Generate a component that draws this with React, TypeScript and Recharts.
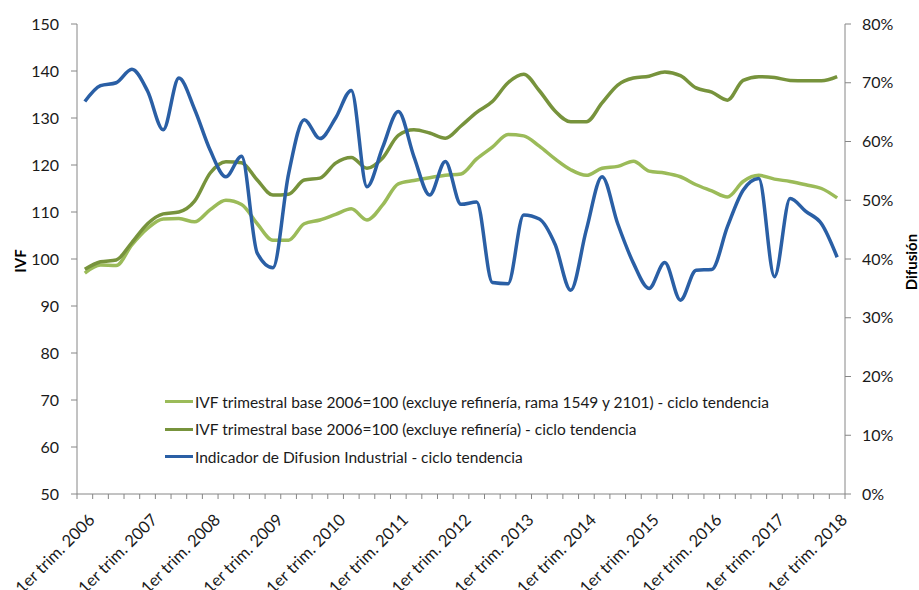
import { LineChart, Line, XAxis, YAxis, Legend } from 'recharts';

const years = [2006, 2007, 2008, 2009, 2010, 2011, 2012, 2013, 2014, 2015, 2016, 2017, 2018];
const quarters = ['1er trim.', '2do trim.', '3er trim.', '4to trim.'];
const categories = years.flatMap((y) => quarters.map((q) => `${q} ${y}`)).slice(0, 49);

// IVF trimestral base 2006=100 (excluye refinería, rama 1549 y 2101)
const ivfSinRama = [
  97, 98.7, 98.6, 103, 106.5, 108.5, 108.6, 107.9, 110.5, 112.5,
  111.6, 107.5, 104, 104, 107.5, 108.3, 109.5, 110.7, 108.3, 111.5,
  116, 116.7, 117.3, 117.8, 118.1, 121.3, 123.8, 126.5, 126.2, 124,
  121.3, 119, 117.8, 119.3, 119.7, 120.8, 118.7, 118.3, 117.5, 115.8,
  114.5, 113.2, 116.5, 117.8, 117, 116.5, 115.8, 115, 113,
];

// IVF trimestral base 2006=100 (excluye refinería)
const ivfSinRefineria = [
  97.8, 99.4, 99.8, 103.5, 107.5, 109.6, 110, 112.3, 118.3, 120.7,
  120.5, 116.8, 113.6, 113.8, 116.8, 117.2, 120.4, 121.6, 119.3, 121.5,
  126.3, 127.5, 126.8, 125.7, 128.3, 131.2, 133.5, 137.5, 139.3, 135.8,
  131.5, 129.2, 129.2, 133.2, 137, 138.5, 138.9, 139.8, 139, 136.4,
  135.5, 133.8, 138, 138.8, 138.6, 138, 137.9, 137.9, 138.8,
];

// Indicador de Difusion Industrial (%)
const difusion = [
  66.8, 69.5, 70, 72.3, 68.6, 62, 70.8, 65.5, 58.5, 54,
  57.5, 41, 38.5, 54.5, 63.7, 60.5, 64, 68.7, 52.3, 59,
  65.1, 57.4, 50.9, 56.6, 49.3, 49.7, 36, 35.8, 47.5, 46.8,
  42.5, 34.7, 45, 54, 46, 39.3, 35, 39.4, 33, 38.1,
  38.2, 45.5, 51.7, 53.7, 37, 50.3, 48.1, 46, 40.3,
];

const seriesNames = [
  'IVF trimestral base 2006=100 (excluye refinería, rama 1549 y 2101) - ciclo tendencia',
  'IVF trimestral base 2006=100 (excluye refinería) - ciclo tendencia',
  'Indicador de Difusion Industrial - ciclo tendencia',
];

const leftTicks = [50, 60, 70, 80, 90, 100, 110, 120, 130, 140, 150];
const rightTicks = [0, 10, 20, 30, 40, 50, 60, 70, 80];

const data = categories.map((name, i) => ({
  name,
  ivfSinRama: ivfSinRama[i],
  ivfSinRefineria: ivfSinRefineria[i],
  difusion: difusion[i],
}));

const FONT = 'Lato, "Open Sans", sans-serif';
const AXIS = '#868686';
const PLOT_LEFT = 77;
const PLOT_RIGHT = 845;
const BAND = (PLOT_RIGHT - PLOT_LEFT) / categories.length;

function XTick(props: any) {
  const { x, y, payload } = props;
  const i = payload.index;
  const lx = x + 11;
  const ly = y + 27;
  return (
    <g>
      <line x1={x - BAND / 2} y1={y} x2={x - BAND / 2} y2={y + 5} stroke={AXIS} />
      {i === categories.length - 1 && (
        <line x1={x + BAND / 2} y1={y} x2={x + BAND / 2} y2={y + 5} stroke={AXIS} />
      )}
      {i % 4 === 0 && (
        <text
          x={lx}
          y={ly}
          transform={`rotate(-45 ${lx} ${ly})`}
          textAnchor="end"
          fontSize={16.5}
          fontFamily={FONT}
          fill="#1a1a1a"
        >
          {payload.value}
        </text>
      )}
    </g>
  );
}

function LegendBox(props: any) {
  const items = [...(props.payload || [])].sort(
    (a: any, b: any) => seriesNames.indexOf(a.value) - seriesNames.indexOf(b.value)
  );
  return (
    <div style={{ fontFamily: FONT, fontSize: 15.5, color: '#1a1a1a' }}>
      {items.map((it: any) => (
        <div key={it.value} style={{ display: 'flex', alignItems: 'center', height: 27.5, whiteSpace: 'nowrap' }}>
          <span style={{ display: 'inline-block', width: 28, height: 3, background: it.color, marginRight: 2 }} />
          <span>{it.value}</span>
        </div>
      ))}
    </div>
  );
}

export default function App() {
  return (
    <div style={{ position: 'absolute', left: 0, top: 0, width: 919, height: 590, background: '#fff' }}>
      <LineChart
        width={919}
        height={590}
        data={data}
        margin={{ top: 24, right: 14, left: 17, bottom: 0 }}
      >
        <XAxis
          dataKey="name"
          scale="band"
          interval={0}
          height={96}
          tickSize={0}
          tickMargin={0}
          tickLine={false}
          axisLine={{ stroke: AXIS }}
          tick={<XTick />}
        />
        <YAxis
          yAxisId="left"
          width={60}
          domain={[50, 150]}
          ticks={leftTicks}
          tickSize={6}
          tickMargin={12}
          axisLine={{ stroke: AXIS }}
          tickLine={{ stroke: AXIS }}
          tick={{ fontSize: 16, fontFamily: FONT, fill: '#1a1a1a' }}
          label={{
            content: () => (
              <text
                x={20}
                y={261}
                transform="rotate(-90 20 261)"
                textAnchor="middle"
                dominantBaseline="central"
                fontSize={15}
                fontWeight="bold"
                fontFamily={FONT}
                fill="#000"
              >
                IVF
              </text>
            ),
          }}
        />
        <YAxis
          yAxisId="right"
          orientation="right"
          width={60}
          domain={[0, 80]}
          ticks={rightTicks}
          tickFormatter={(v) => `${v}%`}
          tickSize={6}
          tickMargin={11}
          axisLine={{ stroke: AXIS }}
          tickLine={{ stroke: AXIS }}
          tick={{ fontSize: 16, fontFamily: FONT, fill: '#1a1a1a' }}
          label={{
            content: () => (
              <text
                x={911}
                y={262}
                transform="rotate(-90 911 262)"
                textAnchor="middle"
                dominantBaseline="central"
                fontSize={15}
                fontWeight="bold"
                fontFamily={FONT}
                fill="#000"
              >
                Difusión
              </text>
            ),
          }}
        />
        <Legend
          layout="vertical"
          align="center"
          verticalAlign="middle"
          wrapperStyle={{ left: 165, top: 388, width: 640 }}
          content={<LegendBox />}
        />
        <Line
          yAxisId="left"
          type="monotone"
          dataKey="ivfSinRama"
          name={seriesNames[0]}
          stroke="#9BBB59"
          strokeWidth={3.5}
          dot={false}
          activeDot={false}
          isAnimationActive={false}
        />
        <Line
          yAxisId="left"
          type="monotone"
          dataKey="ivfSinRefineria"
          name={seriesNames[1]}
          stroke="#77933C"
          strokeWidth={3.5}
          dot={false}
          activeDot={false}
          isAnimationActive={false}
        />
        <Line
          yAxisId="right"
          type="monotone"
          dataKey="difusion"
          name={seriesNames[2]}
          stroke="#2A5FA5"
          strokeWidth={3.5}
          dot={false}
          activeDot={false}
          isAnimationActive={false}
        />
      </LineChart>
    </div>
  );
}
